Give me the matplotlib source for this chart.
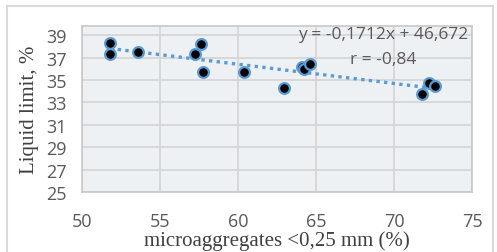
import numpy as np
import matplotlib
matplotlib.use('Agg')
import matplotlib.pyplot as plt
from matplotlib.patches import Rectangle

# Данные
micro = [51.8, 51.8, 53.6, 57.6, 57.25, 57.75, 60.35, 62.95, 64.1, 64.25, 64.6, 71.8, 72.25, 72.6]
liquid = [38.25, 37.3, 37.5, 38.2, 37.35, 35.7, 35.7, 34.25, 36.2, 35.95, 36.4, 33.75, 34.7, 34.5]
slope = -0.1712
intercept = 46.672
eq_text = 'y = -0,1712x + 46,672'
r_text = 'r = -0,84'
x_ticks = [50, 55, 60, 65, 70, 75]
y_ticks = [25, 27, 29, 31, 33, 35, 37, 39]

fig = plt.figure(figsize=(4.97, 2.53), dpi=100)
ax = fig.add_axes([0.165, 0.236, 0.785, 0.657])

# рамка вокруг диаграммы
fig.patches.append(Rectangle((0.014, -0.05), 0.978, 1.022, transform=fig.transFigure,
                             fill=False, edgecolor='#d9d9d9', linewidth=1.5))

ax.set_facecolor('#eef1f4')
ax.grid(True, color='#d4d4d4', linewidth=1.2)
ax.set_axisbelow(True)
for s in ax.spines.values():
    s.set_color('#c8c8c8')
    s.set_linewidth(1.2)

# линия тренда
xl = np.array([min(micro), max(micro)])
ax.plot(xl, slope * xl + intercept, linestyle=(0, (1, 1.3)), color='#5b9bd5', linewidth=2.4, zorder=2)
ax.scatter(micro, liquid, s=60, c='black', edgecolors='#5b9bd5', linewidths=1.6, zorder=3)

ax.set_xlim(50, 75)
ax.set_ylim(25, 39.8)
ax.set_xticks(x_ticks)
ax.set_yticks(y_ticks)
ax.tick_params(length=0, labelsize=13, labelcolor='#595959')
ax.tick_params(axis='x', pad=14)
ax.tick_params(axis='y', pad=11)
for lab in ax.get_xticklabels() + ax.get_yticklabels():
    lab.set_fontfamily('Open Sans')

ax.set_xlabel('microaggregates <0,25 mm (%)', fontfamily='Liberation Serif', fontsize=15,
              color='#404040', labelpad=0.5)
ax.set_ylabel('Liquid limit, %', fontfamily='Liberation Serif', fontsize=15,
              color='#404040', labelpad=5)

ax.text(0.99, 0.952, eq_text, transform=ax.transAxes, ha='right', va='center',
        fontfamily='Open Sans', fontsize=12.5, color='#595959')
ax.text(0.772, 0.80, r_text, transform=ax.transAxes, ha='center', va='center',
        fontfamily='Open Sans', fontsize=12.5, color='#595959')

fig.savefig('out.png', dpi=100)
